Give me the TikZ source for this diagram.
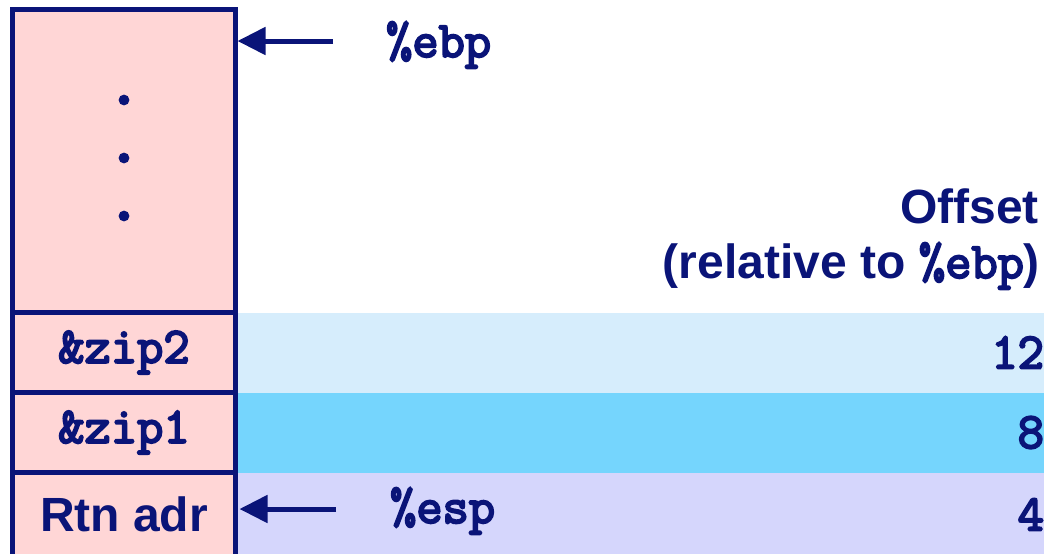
\documentclass[tikz,border=0pt]{standalone}
\usepackage{fontspec}
\setsansfont{Liberation Sans}
\newfontfamily\codefont{Latin Modern Mono}[FakeBold=4]
\renewcommand{\familydefault}{\sfdefault}
\usetikzlibrary{arrows.meta,positioning,backgrounds}
\definecolor{navy}{HTML}{0A1478}
\definecolor{pinkcell}{HTML}{FFD6D6}
\definecolor{paleblue}{HTML}{D6EDFC}
\definecolor{skyblue}{HTML}{75D5FD}
\definecolor{lavender}{HTML}{D5D6FC}

\begin{document}
\begin{tikzpicture}[x=0.5pt,y=-0.5pt,font=\fontsize{24}{28}\selectfont\bfseries,text=navy,
  cell/.style={draw=navy,line width=2.4pt,fill=pinkcell,minimum width=111.5pt,inner sep=0pt,outer sep=0pt},
  ptr/.style={navy,line width=2.5pt,-{Triangle[length=14pt,width=13.5pt]}},
  code/.style={font=\fontsize{25.5}{27}\selectfont\codefont}]
\useasboundingbox (0,0) rectangle (1044,553);
\coordinate (edge) at (1044,0);
% stack of cells
\node[cell,minimum height=151.5pt] (frame) at (124,161) {};
\node[cell,minimum height=40pt,below=0pt of frame,code] (zip2) {\&zip2};
\node[cell,minimum height=40pt,below=0pt of zip2,code] (zip1) {\&zip1};
\node[cell,minimum height=42pt,below=0pt of zip1] (rtn) {Rtn adr};
\foreach \d in {100,158,216}
  \fill[navy] (124,\d) circle (2.7pt);
% offset bands
\begin{scope}[on background layer]
  \fill[paleblue] (zip2.north east) rectangle (zip2.south -| edge);
  \fill[skyblue] (zip1.north east) rectangle (zip1.south -| edge);
  \fill[lavender] (rtn.north east) rectangle (rtn.south -| edge);
\end{scope}
\foreach \nm/\off in {zip2/12,zip1/8,rtn/4}
  \node[code,anchor=east,xshift=3.5pt] (off\off) at (\nm -| edge) {\off};
\node[anchor=base east] (offset) at (1046,223) {Offset};
\node[anchor=base east] (relnote) at (1047,278) {(relative to {\codefont\fontsize{25.5}{27}\selectfont\%ebp})};
% register pointers
\node[code,anchor=base west] (ebp) at (379,57) {\%ebp};
\node[code,anchor=base west] (esp) at (383,523) {\%esp};
\coordinate (ebptail) at (333,41);
\coordinate (esptail) at (336,509);
\draw[ptr] (ebptail) -- ([xshift=1pt]ebptail -| frame.east);
\draw[ptr] (esptail) -- ([xshift=2pt]esptail -| rtn.east);
\end{tikzpicture}
\end{document}
